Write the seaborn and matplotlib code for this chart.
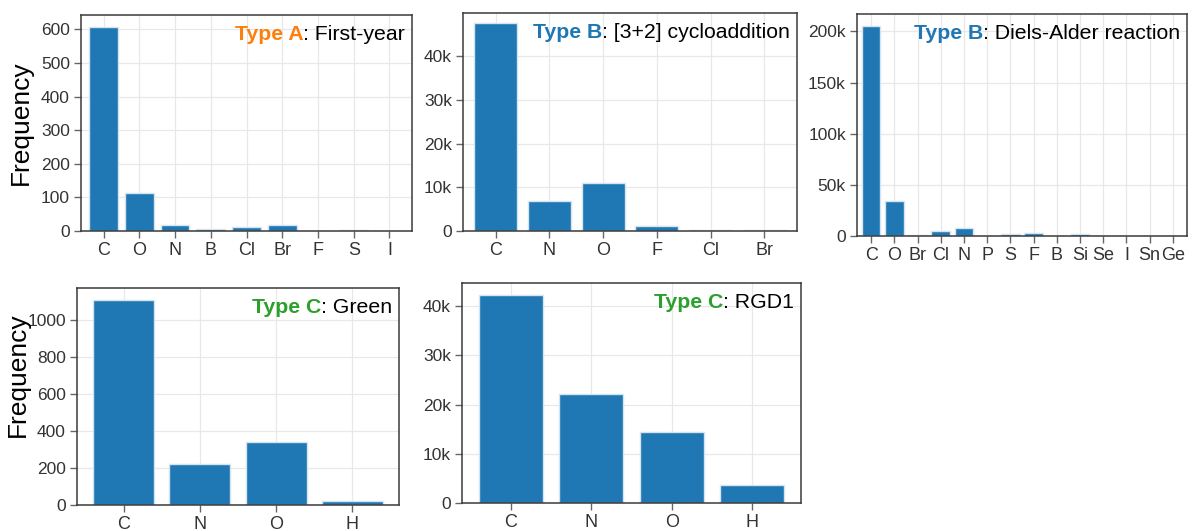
import numpy as np
import matplotlib
matplotlib.use("Agg")
import matplotlib.pyplot as plt
import seaborn as sns
from matplotlib.ticker import MultipleLocator, FuncFormatter

# Element frequencies per dataset
elems_a = ["C", "O", "N", "B", "Cl", "Br", "F", "S", "I"]
freq_a = [608, 114, 17, 5, 12, 17, 0, 2, 1]

elems_b1 = ["C", "N", "O", "F", "Cl", "Br"]
freq_b1 = [47500, 6800, 10900, 1150, 250, 250]

elems_b2 = ["C", "O", "Br", "Cl", "N", "P", "S", "F", "B", "Si", "Se", "I", "Sn", "Ge"]
freq_b2 = [205500, 34300, 1300, 4600, 8200, 0, 1600, 2600, 0, 1600, 100, 100, 50, 50]

elems_c1 = ["C", "N", "O", "H"]
freq_c1 = [1110, 221, 340, 22]

elems_c2 = ["C", "N", "O", "H"]
freq_c2 = [42300, 22100, 14500, 3600]

sns.set_theme(style="whitegrid")
plt.rcParams["font.family"] = ["Liberation Sans", "DejaVu Sans"]

W, H = 1192, 531
fig = plt.figure(figsize=(W / 100, H / 100), dpi=100)

BLUE = "#1f77b4"
ORANGE = "#ff7f0e"
GREEN = "#2ca02c"


def kfmt(v, pos):
    if v == 0:
        return "0"
    return f"{v / 1000:g}k"


# (left, top, right, bottom) in pixels
panels = [
    (elems_a, freq_a, (81, 15, 412, 231), 643, 100, False, "Type A", ORANGE, ": First-year", 0.13),
    (elems_b1, freq_b1, (463, 13, 797, 231), 49900, 10000, True, "Type B", BLUE, ": [3+2] cycloaddition", 0.11),
    (elems_b2, freq_b2, (857, 14, 1187, 236), 217000, 50000, True, "Type B", BLUE, ": Diels-Alder reaction", 0.11),
    (elems_c1, freq_c1, (77, 288, 399, 505), 1175, 200, False, "Type C", GREEN, ": Green", 0.11),
    (elems_c2, freq_c2, (462, 283, 801, 503), 44700, 10000, True, "Type C", GREEN, ": RGD1", 0.11),
]

for i, (elems, freqs, (l, t, r, b), ytop, step, use_k, tag, tagcol, name, pad) in enumerate(panels):
    ax = fig.add_axes([l / W, 1 - b / H, (r - l) / W, (b - t) / H])
    sns.barplot(x=elems, y=freqs, ax=ax, color=BLUE, saturation=1,
                edgecolor="#d6e4f0", linewidth=1, width=0.8)
    ax.set_xlim(-0.5 - pad, len(elems) - 0.5 + pad)
    ax.set_ylim(0, ytop)
    ax.yaxis.set_major_locator(MultipleLocator(step))
    if use_k:
        ax.yaxis.set_major_formatter(FuncFormatter(kfmt))
    else:
        ax.yaxis.set_major_formatter(FuncFormatter(lambda v, p: f"{v:g}"))
    ax.grid(True, color="#e8e8e8", linewidth=0.9)
    ax.set_axisbelow(True)
    for sp in ax.spines.values():
        sp.set_color("#3a3a3a")
        sp.set_linewidth(1.1)
    ax.tick_params(axis="both", which="major", direction="out", length=5,
                   width=1, color="#666666", labelsize=12.5, labelcolor="#333333",
                   bottom=True, left=True, pad=3)
    ax.tick_params(axis="x", labelsize=13)
    if i in (0, 3):
        ax.set_ylabel("Frequency", fontsize=19, color="black")
        if i == 0:
            ax.yaxis.set_label_coords(-0.145, 0.5)
        else:
            ax.yaxis.set_label_coords(-0.145, 0.6)
    else:
        ax.set_ylabel("")
    px_w = r - l
    px_h = b - t
    t1 = ax.text(1 - 7 / px_w, 1 - 10 / px_h, name, transform=ax.transAxes,
                 ha="right", va="top", fontsize=15.3, color="black")
    ax.annotate(tag, xy=(0, 0), xycoords=t1, ha="right", va="bottom",
                fontsize=15.3, fontweight="bold", color=tagcol)

fig.savefig("out.png", dpi=100)
